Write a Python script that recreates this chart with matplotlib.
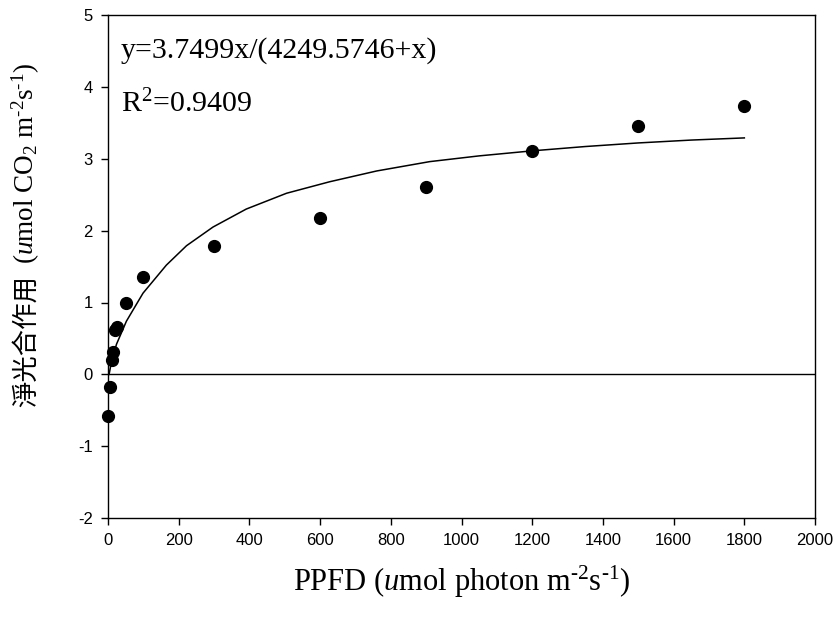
import numpy as np
import matplotlib
matplotlib.use("Agg")
import matplotlib.pyplot as plt

plt.rcParams['mathtext.fontset'] = 'custom'
plt.rcParams['mathtext.rm'] = 'Liberation Serif'
plt.rcParams['mathtext.it'] = 'Liberation Serif:italic'
plt.rcParams['mathtext.bf'] = 'Liberation Serif:bold'
plt.rcParams['axes.unicode_minus'] = False

# measured points
ppfd = [0, 5, 10, 15, 20, 25, 50, 100, 300, 600, 900, 1200, 1500, 1800]
net_ps = [-0.58, -0.18, 0.20, 0.31, 0.62, 0.66, 1.00, 1.35, 1.79, 2.17, 2.61, 3.11, 3.45, 3.74]

# fitted curve
fit_x = [3, 10, 24, 52, 99, 165, 222, 297, 391, 505, 627, 760, 910, 1050, 1200, 1350, 1500, 1650, 1800]
fit_y = [0.0, 0.18, 0.42, 0.74, 1.13, 1.52, 1.79, 2.05, 2.30, 2.52, 2.68, 2.83, 2.96, 3.04, 3.11, 3.17, 3.22, 3.26, 3.29]

eq_text = "y=3.7499x/(4249.5746+x)"
r2_text = "R$^2$=0.9409"

fig = plt.figure(figsize=(8.4, 6.25), dpi=100)
ax = fig.add_axes([0.1286, 0.171, 0.8417, 0.805])

ax.axhline(0, color='black', lw=1.0)
ax.plot(fit_x, fit_y, color='black', lw=1.1)
ax.plot(ppfd, net_ps, 'o', color='black', markersize=8.5, clip_on=False)

ax.set_xlim(0, 2000)
ax.set_ylim(-2, 5)
ax.set_xticks(np.arange(0, 2001, 200))
ax.set_yticks(np.arange(-2, 6, 1))
ax.tick_params(direction='out', length=5, width=1, labelsize=12, pad=6)
for lab in ax.get_xticklabels() + ax.get_yticklabels():
    lab.set_fontfamily('Liberation Sans')
for s in ax.spines.values():
    s.set_linewidth(1.0)

ax.text(0.018, 0.930, eq_text, transform=ax.transAxes, fontsize=21.5,
        family='Liberation Serif', va='center', ha='left')
ax.text(0.018, 0.823, r2_text, transform=ax.transAxes, fontsize=21.5,
        family='Liberation Serif', va='center', ha='left')

ax.set_xlabel(r"PPFD ($\mathit{u}$mol photon m$^{\text{-}2}$s$^{\text{-}1}$)",
              fontsize=22, family='Liberation Serif')
ax.xaxis.set_label_coords(0.5, -0.09)

# y label: Chinese part and unit part
fig.text(26 / 840, 1 - 341 / 625, "淨光合作用", rotation=90, ha='center', va='center',
         fontsize=19, family=['Noto Sans CJK TC', 'DejaVu Sans'])
fig.text(26 / 840, 1 - 264 / 625,
         r"($\mathit{u}$mol CO$_2$ m$^{\text{-}2}$s$^{\text{-}1}$)",
         rotation=90, ha='center', va='bottom', fontsize=19.5, family='Liberation Serif')

fig.savefig("out.png", dpi=100)
